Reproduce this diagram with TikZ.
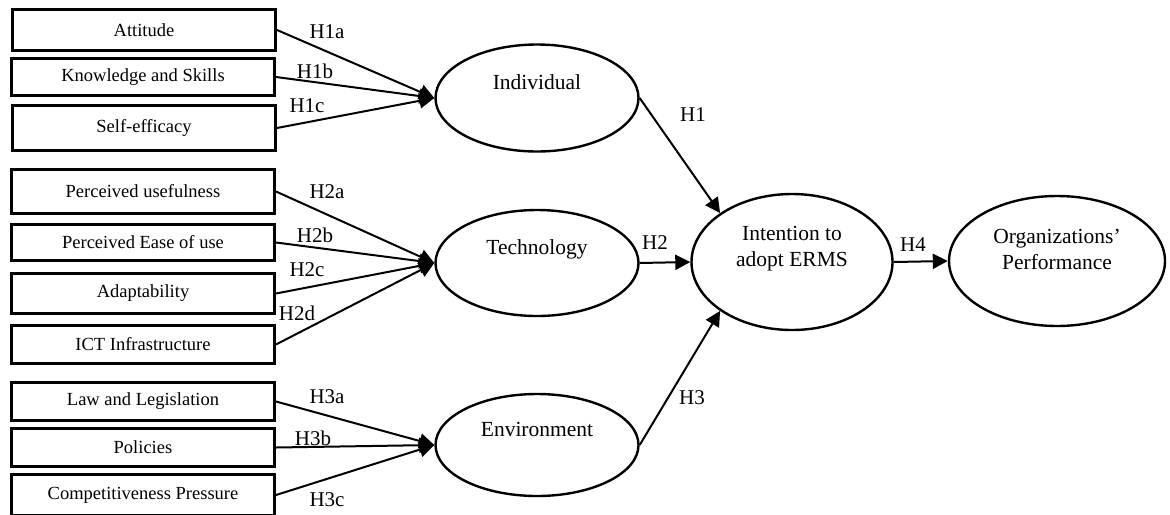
\documentclass[tikz,border=0pt]{standalone}
\usepackage{fontspec}
\setmainfont{Liberation Serif}
\usetikzlibrary{arrows.meta,shapes}
\newcommand{\boxw}{131.5pt}
\newcommand{\boxlw}{1.5pt}

\tikzset{
  factor/.style={draw, line width=\boxlw, minimum width=\boxw, minimum height=#1,
    inner sep=0pt, font=\fontsize{9.25}{11}\selectfont},
  factor/.default=19pt,
  construct/.style={ellipse, draw, line width=1.2pt, inner sep=0pt, align=center,
    font=\fontsize{10.75}{13}\selectfont, text height=8pt},
  hyp/.style={inner sep=0pt, font=\fontsize{10.5}{12}\selectfont},
  link/.style={-{Triangle[length=7.5pt,width=7.5pt]}, line width=1pt}
}

\begin{document}
\begin{tikzpicture}[x=0.5pt,y=-0.5pt]
  \useasboundingbox (0,0) rectangle (1170,514);
  %\draw[help lines] (0,0) grid (1170,514);

  % left hand factors
  \node[factor=20.5pt] (att)   at (144,30)    {Attitude};
  \node[factor=18.5pt] (know)  at (143,77)    {Knowledge and Skills};
  \node[factor=22.5pt] (self)  at (144,128)   {Self-efficacy};
  \node[factor=22pt]   (pu)    at (143,191.5) {Perceived usefulness};
  \node[factor=18pt]   (peou)  at (143,242.5) {Perceived Ease of use};
  \node[factor=20pt]   (adapt) at (143,293.5) {Adaptability};
  \node[factor]        (ict)   at (143,344.5) {ICT Infrastructure};
  \node[factor]        (law)   at (143,401.5) {Law and Legislation};
  \node[factor]        (pol)   at (143,447.5) {Policies};
  \node[factor=20.5pt] (comp)  at (143,495)   {Competitiveness Pressure};

  % constructs
  \node[construct, minimum width=101.5pt, minimum height=53.5pt, text depth=16.6pt]
    (ind) at (537,98) {Individual};
  \node[construct, minimum width=101.5pt, minimum height=53pt, text depth=16.6pt]
    (tech) at (537,263) {Technology};
  \node[construct, minimum width=101.5pt, minimum height=51pt, text depth=16.6pt]
    (env) at (537,445) {Environment};
  \node[construct, minimum width=100.5pt, minimum height=68pt, text depth=3.6pt]
    (int) at (792,262) {Intention to\\adopt ERMS};
  \node[construct, minimum width=108pt, minimum height=65pt, text height=12pt, text depth=3.1pt]
    (org) at (1057,261) {Organizations'\\Performance};

  % paths
  \foreach \f in {att,know,self}
    \draw[link] (\f.east) -- (ind.west);
  \foreach \f in {pu,peou,adapt,ict}
    \draw[link] (\f.east) -- (tech.west);
  \foreach \f in {law,pol,comp}
    \draw[link] (\f.east) -- (env.west);
  \draw[link] (ind.east) -- (int.north west);
  \draw[link] (tech.east) -- (int.west);
  \draw[link] (env.east) -- (int.south west);
  \draw[link] (int.east) -- (org.west);

  % hypotheses
  \node[hyp] (h1a) at (327,32)  {H1a};
  \node[hyp] (h1b) at (315,71)  {H1b};
  \node[hyp] (h1c) at (307,106) {H1c};
  \node[hyp] (h2a) at (327,192) {H2a};
  \node[hyp] (h2b) at (315,235) {H2b};
  \node[hyp] (h2c) at (307,270) {H2c};
  \node[hyp] (h2d) at (297,313) {H2d};
  \node[hyp] (h3a) at (327,397) {H3a};
  \node[hyp] (h3b) at (313,438) {H3b};
  \node[hyp] (h3c) at (327,500) {H3c};
  \node[hyp] (h1)  at (693,115) {H1};
  \node[hyp] (h2)  at (655,243) {H2};
  \node[hyp] (h3)  at (692,398) {H3};
  \node[hyp] (h4)  at (913,245) {H4};
\end{tikzpicture}
\end{document}
